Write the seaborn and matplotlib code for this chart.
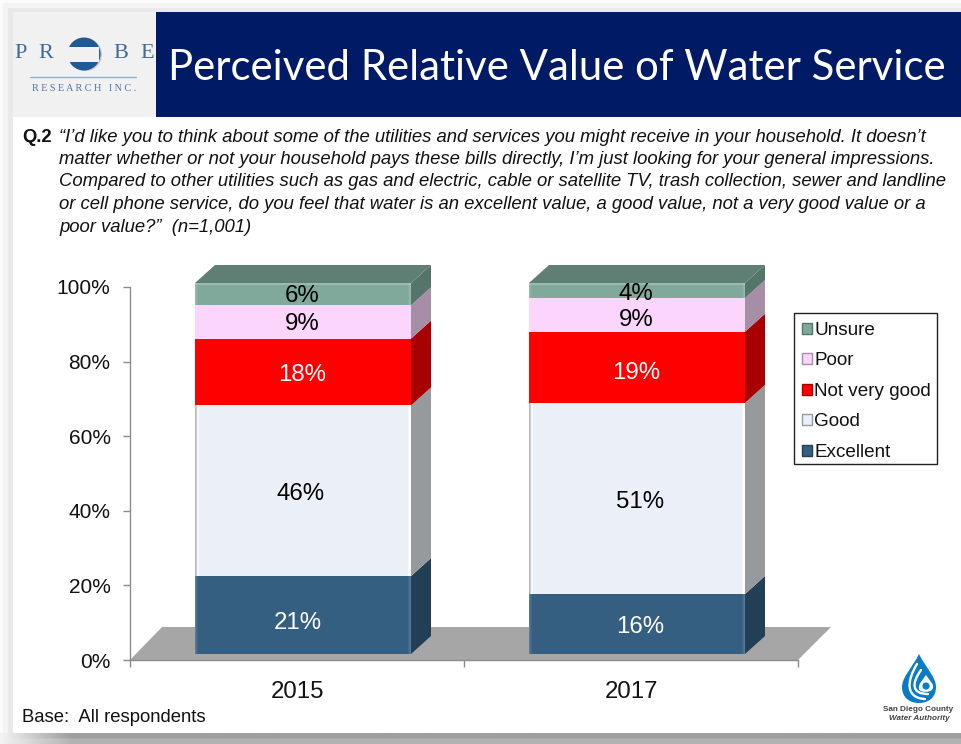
import numpy as np
import pandas as pd
import seaborn as sns
import matplotlib
matplotlib.use("Agg")
import matplotlib.pyplot as plt
from matplotlib.patches import Rectangle, Polygon, Circle, Patch, PathPatch
from matplotlib.path import Path
from matplotlib.colors import LinearSegmentedColormap

# ---------- data ----------
years = ["2015", "2017"]
ratings = ["Excellent", "Good", "Not very good", "Poor", "Unsure"]
excellent = [21, 16]
good = [46, 51]
not_very_good = [18, 19]
poor = [9, 9]
unsure = [6, 4]
y_tick_labels = ["0%", "20%", "40%", "60%", "80%", "100%"]
title = "Perceived Relative Value of Water Service"
question_lines = [
    "\u201cI\u2019d like you to think about some of the utilities and services you might receive in your household. It doesn\u2019t",
    "matter whether or not your household pays these bills directly, I\u2019m just looking for your general impressions.",
    "Compared to other utilities such as gas and electric, cable or satellite TV, trash collection, sewer and landline",
    "or cell phone service, do you feel that water is an excellent value, a good value, not a very good value or a",
    "poor value?\u201d  (n=1,001)",
]

front_colors = {"Excellent": "#355f80", "Good": "#ebf0f8", "Not very good": "#ff0000",
                "Poor": "#fcd5fc", "Unsure": "#80a99b"}
side_colors = {"Excellent": "#233f55", "Good": "#979a9d", "Not very good": "#a80000",
               "Poor": "#a68ea6", "Unsure": "#55746a"}
label_colors = {"Excellent": "white", "Good": "black", "Not very good": "white",
                "Poor": "black", "Unsure": "black"}
top_color = "#5f7f74"

sns.set_theme(style="white")
plt.rcParams["font.family"] = ["Liberation Sans", "DejaVu Sans"]

W, H = 961, 744
fig = plt.figure(figsize=(W / 100, H / 100), dpi=100)


def axes_px(left, top, right, bottom, **kw):
    return fig.add_axes([left / W, 1 - bottom / H, (right - left) / W, (bottom - top) / H], **kw)


# ---------- backdrop in pixel coordinates ----------
bg = axes_px(0, 0, W, H, zorder=0)
bg.set_xlim(0, W)
bg.set_ylim(H, 0)
bg.axis("off")
bg.add_patch(Rectangle((0, 0), W, H, color="#fbfbfb", lw=0))
bg.add_patch(Rectangle((3, 3), W, H, color="#f4f4f4", lw=0))
bg.add_patch(Rectangle((8, 8), W, H, color="#e9e9e9", lw=0))
shadow = LinearSegmentedColormap.from_list("shadow", ["#f2f2f2", "#9e9e9e"])
ramp = np.clip(np.linspace(0, W, 240) / 70, 0, 1)
grad = np.vstack([ramp, ramp, ramp * 0.75, ramp * 0.75])
bg.imshow(grad, extent=(0, W, 744, 733), cmap=shadow, aspect="auto", zorder=1, vmin=0, vmax=1)
bg.set_xlim(0, W)
bg.set_ylim(H, 0)
bg.add_patch(Rectangle((13, 12), W, 721, color="white", lw=0, zorder=2))
bg.add_patch(Rectangle((13, 12), 143, 105, color="#f1f1f1", lw=0, zorder=2))
bg.add_patch(Rectangle((156, 12), W - 156, 105, color="#001a66", lw=0, zorder=2))
bg.text(168, 68, title, color="white", fontsize=30.15, family="Lato", va="center", ha="left", zorder=3)

# Probe logo
logo_blue = "#1f5a96"
bg.add_patch(Circle((85.5, 54.5), 16.5, color="#c9c6dc", lw=0, zorder=2))
bg.add_patch(Circle((84, 54), 16.5, color=logo_blue, lw=0, zorder=2))
bg.add_patch(Rectangle((66, 47), 33, 15, color="#f1f1f1", lw=0, zorder=2))
for ch, x in zip("PRBE", (21, 46, 121, 147)):
    bg.text(x, 54, ch, color="#3e6a9a", fontsize=16, family="Liberation Serif", ha="center", va="center", zorder=3)
bg.plot([30, 136], [76.5, 76.5], color="#8fb3d6", lw=1, zorder=3)
bg.text(84, 88.5, "R E S E A R C H   I N C .", color="#4f76a3", fontsize=7.3,
        family="Liberation Serif", ha="center", va="center", zorder=3)

# question text
bg.text(22, 137, "Q.2", fontsize=13.3, fontweight="bold", va="center", color="#111111", zorder=3)
for line, y in zip(question_lines, (137, 159.5, 182, 204.5, 227)):
    bg.text(59, y, line, fontsize=13.3, style="italic", va="center", color="#111111", zorder=3)
bg.text(22, 718, "Base:  All respondents", fontsize=13.3, va="center", color="#111111", zorder=3)

# floor
bg.add_patch(Polygon([(130, 660), (162, 627), (831, 627), (798, 660)], closed=True, color="#a6a6a6", lw=0, zorder=2))

# legend box
bg.add_patch(Rectangle((794, 313), 143, 151, fc="white", ec="#222222", lw=1, zorder=3))

# Water Authority logo
drop = Path([(919, 654), (912, 668), (902, 677), (902, 687), (902, 698), (910, 703), (919, 703),
             (928, 703), (936, 698), (936, 687), (936, 677), (926, 668), (919, 654)],
            [Path.MOVETO] + [Path.CURVE4] * 12)
bg.add_patch(PathPatch(drop, color="#0b7cc4", lw=0, zorder=2))
arc1 = Path([(917, 664), (906, 682), (906, 698), (925, 699)], [Path.MOVETO] + [Path.CURVE4] * 3)
arc2 = Path([(921, 670), (911, 684), (912, 694), (928, 694)], [Path.MOVETO] + [Path.CURVE4] * 3)
for arc in (arc1, arc2):
    bg.add_patch(PathPatch(arc, fc="none", ec="white", lw=1.7, capstyle="round", zorder=3))
inner = Path([(926, 675), (922, 681), (918, 684), (919, 689), (920, 693), (932, 693), (933, 688), (934, 684),
              (930, 681), (926, 675)], [Path.MOVETO] + [Path.CURVE4] * 9)
bg.add_patch(PathPatch(inner, color="white", lw=0, zorder=3))
bg.add_patch(Circle((926, 686), 3.6, color="#0b7cc4", lw=0, zorder=3))
bg.text(918.5, 709.5, "San Diego County", fontsize=5.9, fontweight="bold", ha="center", va="center", color="#444444", zorder=3)
bg.text(919, 718.5, "Water Authority", fontsize=5.9, fontweight="bold", style="italic", ha="center", va="center", color="#444444", zorder=3)

# ---------- axis on the back wall ----------
back = axes_px(130, 287, 798, 660, zorder=1)
back.patch.set_alpha(0)
back.set_xlim(0, 2)
back.set_ylim(0, 100)
sns.despine(ax=back)
for s in ("left", "bottom"):
    back.spines[s].set_color("#8c8c8c")
    back.spines[s].set_linewidth(1)
back.set_yticks(np.arange(0, 101, 20), y_tick_labels, fontsize=15, color="#111111")
back.set_xticks([0, 1, 2], ["", "", ""])
back.set_xticks([0.5, 1.5], years, minor=True, fontsize=17.3, color="#111111")
back.tick_params(axis="y", left=True, length=5, width=1, color="#8c8c8c", pad=9)
back.tick_params(axis="x", which="major", bottom=True, length=5, width=1, color="#8c8c8c")
back.tick_params(axis="x", which="minor", bottom=False, length=0, pad=15)

# ---------- stacked bars, front plane ----------
df = pd.DataFrame({"Year": years, "Excellent": excellent, "Good": good,
                   "Not very good": not_very_good, "Poor": poor, "Unsure": unsure})
shares = df.set_index("Year")[ratings].astype(float)
shares = shares.div(shares.sum(axis=1), axis=0) * 100
tops = shares.cumsum(axis=1)
long = tops.reset_index().melt(id_vars="Year", var_name="Rating", value_name="Top")

front = axes_px(136, 283, 804, 654, zorder=2)
front.patch.set_alpha(0)
bar_width = 216 / 334
dx = 20 / 334          # depth in category units
dy = 18 / (371 / 100)  # depth in percentage points

# sides go first so the bars sit on top of them
for i in range(len(years)):
    x1 = i + bar_width / 2
    x0 = i - bar_width / 2
    low = 0.0
    for r in ratings:
        high = tops.loc[years[i], r]
        front.add_patch(Polygon([(x1, low), (x1 + dx, low + dy), (x1 + dx, high + dy), (x1, high)],
                                closed=True, color=side_colors[r], lw=0, clip_on=False))
        low = high
    front.add_patch(Polygon([(x0, 100), (x0 + dx, 100 + dy), (x1 + dx, 100 + dy), (x1, 100)],
                            closed=True, color=top_color, lw=0, clip_on=False))

sns.barplot(data=long, x="Year", y="Top", hue="Rating", hue_order=ratings[::-1], order=years,
            palette=front_colors, dodge=False, width=bar_width, saturation=1, legend=False,
            ax=front, linewidth=0, errorbar=None)
front.set_xlim(-0.5, 1.5)
front.set_ylim(0, 100)
front.axis("off")

# soft edges on the front faces
px = 1 / 334
for i, year in enumerate(years):
    x0 = i - bar_width / 2
    x1 = i + bar_width / 2
    low = 0.0
    for r in ratings:
        high = tops.loc[year, r]
        if r == "Good":
            for k, c in enumerate(("#b4b4b4", "#d2d2d2", "#f4f4f4", "#f6f8fb")):
                front.add_patch(Rectangle((x0 + k * px, low), px, high - low, color=c, lw=0, zorder=5))
            for k, c in enumerate(("#ffffff", "#ffffff", "#f6f8fb")):
                front.add_patch(Rectangle((x1 - (k + 1) * px, low), px, high - low, color=c, lw=0, zorder=5))
        elif r in ("Excellent", "Unsure"):
            for k, a in enumerate((0.18, 0.1, 0.05)):
                front.add_patch(Rectangle((x0 + k * px, low), px, high - low, color="white", alpha=a, lw=0, zorder=5))
                front.add_patch(Rectangle((x1 - (k + 1) * px, low), px, high - low, color="white", alpha=a, lw=0, zorder=5))
        low = high
    front.add_patch(Rectangle((x0, 99.4), bar_width, 0.6, color="#ffffff", alpha=0.22, lw=0, zorder=5, clip_on=False))

# value labels, nudged in pixels (right, down) from the centre of each segment
nudge_px = {("2015", "Excellent"): (-5, 8), ("2015", "Good"): (-2, 3), ("2015", "Not very good"): (-1, 3),
            ("2015", "Poor"): (-1, 2), ("2015", "Unsure"): (-1, 2),
            ("2017", "Excellent"): (3, 3), ("2017", "Good"): (3, 4), ("2017", "Not very good"): (-1, 6),
            ("2017", "Poor"): (-1, 5), ("2017", "Unsure"): (-1, 4)}
values = {r: df[r].tolist() for r in ratings}
for i, year in enumerate(years):
    low = 0.0
    for r in ratings:
        high = tops.loc[year, r]
        nx, ny = nudge_px[(year, r)]
        front.annotate(f"{values[r][i]}%", xy=(i, (low + high) / 2), xytext=(nx * 0.72, -ny * 0.72),
                       textcoords="offset points", ha="center", va="center",
                       fontsize=17.3, color=label_colors[r], zorder=6)
        low = high

# ---------- legend ----------
handles = [Patch(facecolor=front_colors[r], edgecolor=side_colors[r], linewidth=1, label=r) for r in ratings[::-1]]
leg = fig.legend(handles=handles, loc="upper left", bbox_to_anchor=(794 / W, 1 - 314 / H),
                 bbox_transform=fig.transFigure, borderaxespad=0, fontsize=13.6, fancybox=False,
                 frameon=False, labelspacing=0.715, handlelength=0.55,
                 handleheight=0.55, handletextpad=0.1, borderpad=0.42, labelcolor="#111111")
leg.set_zorder(10)

fig.savefig("out.png", dpi=100)
